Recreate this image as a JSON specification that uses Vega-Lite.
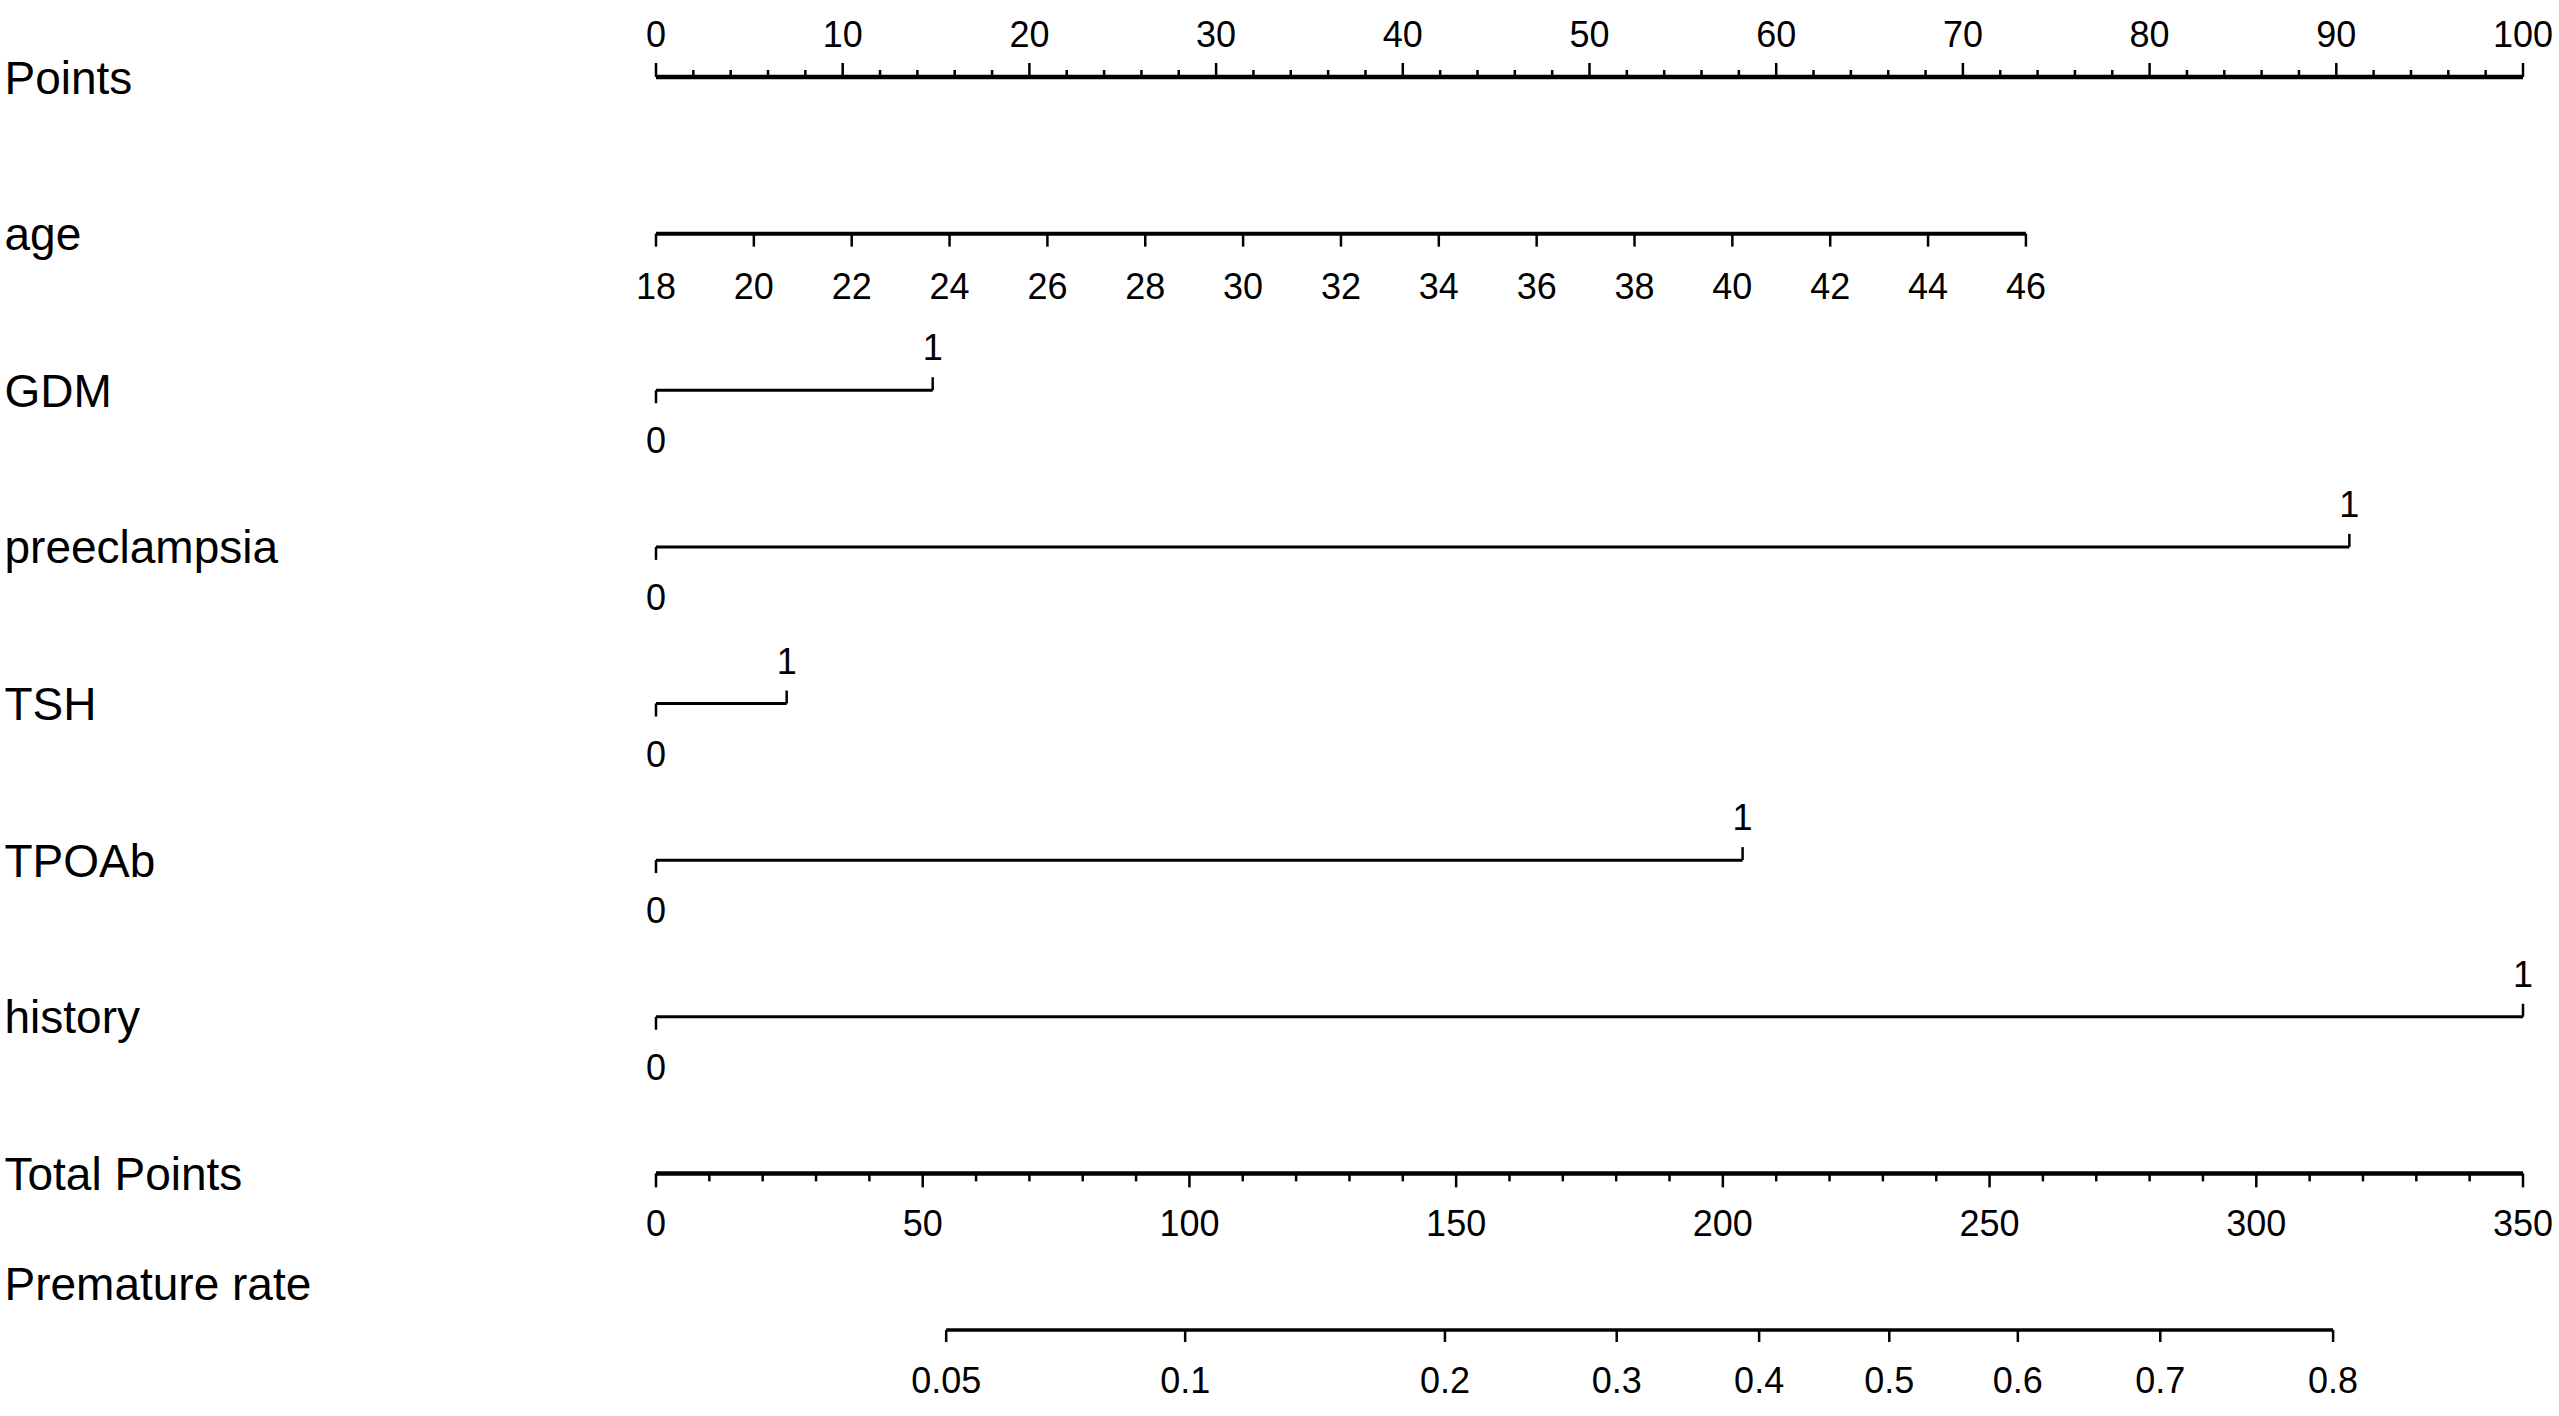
{
  "$schema": "https://vega.github.io/schema/vega-lite/v6.json",
  "width": 1867,
  "height": 1253,
  "autosize": {"type": "none"},
  "padding": {"left": 656, "top": 77, "right": 36, "bottom": 86},
  "background": "white",
  "config": {
    "view": {"stroke": null},
    "text": {"font": "Liberation Sans", "fontSize": 36, "color": "black", "align": "center", "baseline": "alphabetic"},
    "rule": {"color": "black"},
    "tick": {"color": "black", "opacity": 1}
  },
  "datasets": {
    "lines": [
      {"row": "Points", "from": 0, "to": 100, "unit": "pts"},
      {"row": "GDM", "from": 0, "to": 14.82, "unit": "pts"},
      {"row": "preeclampsia", "from": 0, "to": 90.7, "unit": "pts"},
      {"row": "TSH", "from": 0, "to": 7.0, "unit": "pts"},
      {"row": "TPOAb", "from": 0, "to": 58.2, "unit": "pts"},
      {"row": "history", "from": 0, "to": 100, "unit": "pts"},
      {"row": "age", "from": 18, "to": 46, "unit": "age"},
      {"row": "Total Points", "from": 0, "to": 350, "unit": "total"},
      {"row": "Premature rate", "from": 54.4, "to": 314.4, "unit": "total"}
    ],
    "points_axis": [
      {"row": "Points", "v": 0, "major": true, "label": "0"},
      {"row": "Points", "v": 2, "major": false},
      {"row": "Points", "v": 4, "major": false},
      {"row": "Points", "v": 6, "major": false},
      {"row": "Points", "v": 8, "major": false},
      {"row": "Points", "v": 10, "major": true, "label": "10"},
      {"row": "Points", "v": 12, "major": false},
      {"row": "Points", "v": 14, "major": false},
      {"row": "Points", "v": 16, "major": false},
      {"row": "Points", "v": 18, "major": false},
      {"row": "Points", "v": 20, "major": true, "label": "20"},
      {"row": "Points", "v": 22, "major": false},
      {"row": "Points", "v": 24, "major": false},
      {"row": "Points", "v": 26, "major": false},
      {"row": "Points", "v": 28, "major": false},
      {"row": "Points", "v": 30, "major": true, "label": "30"},
      {"row": "Points", "v": 32, "major": false},
      {"row": "Points", "v": 34, "major": false},
      {"row": "Points", "v": 36, "major": false},
      {"row": "Points", "v": 38, "major": false},
      {"row": "Points", "v": 40, "major": true, "label": "40"},
      {"row": "Points", "v": 42, "major": false},
      {"row": "Points", "v": 44, "major": false},
      {"row": "Points", "v": 46, "major": false},
      {"row": "Points", "v": 48, "major": false},
      {"row": "Points", "v": 50, "major": true, "label": "50"},
      {"row": "Points", "v": 52, "major": false},
      {"row": "Points", "v": 54, "major": false},
      {"row": "Points", "v": 56, "major": false},
      {"row": "Points", "v": 58, "major": false},
      {"row": "Points", "v": 60, "major": true, "label": "60"},
      {"row": "Points", "v": 62, "major": false},
      {"row": "Points", "v": 64, "major": false},
      {"row": "Points", "v": 66, "major": false},
      {"row": "Points", "v": 68, "major": false},
      {"row": "Points", "v": 70, "major": true, "label": "70"},
      {"row": "Points", "v": 72, "major": false},
      {"row": "Points", "v": 74, "major": false},
      {"row": "Points", "v": 76, "major": false},
      {"row": "Points", "v": 78, "major": false},
      {"row": "Points", "v": 80, "major": true, "label": "80"},
      {"row": "Points", "v": 82, "major": false},
      {"row": "Points", "v": 84, "major": false},
      {"row": "Points", "v": 86, "major": false},
      {"row": "Points", "v": 88, "major": false},
      {"row": "Points", "v": 90, "major": true, "label": "90"},
      {"row": "Points", "v": 92, "major": false},
      {"row": "Points", "v": 94, "major": false},
      {"row": "Points", "v": 96, "major": false},
      {"row": "Points", "v": 98, "major": false},
      {"row": "Points", "v": 100, "major": true, "label": "100"}
    ],
    "cats": [
      {"row": "GDM", "level": "0", "pts": 0},
      {"row": "GDM", "level": "1", "pts": 14.82},
      {"row": "preeclampsia", "level": "0", "pts": 0},
      {"row": "preeclampsia", "level": "1", "pts": 90.7},
      {"row": "TSH", "level": "0", "pts": 0},
      {"row": "TSH", "level": "1", "pts": 7.0},
      {"row": "TPOAb", "level": "0", "pts": 0},
      {"row": "TPOAb", "level": "1", "pts": 58.2},
      {"row": "history", "level": "0", "pts": 0},
      {"row": "history", "level": "1", "pts": 100}
    ],
    "age_axis": [
      {"row": "age", "age": 18}, {"row": "age", "age": 20}, {"row": "age", "age": 22},
      {"row": "age", "age": 24}, {"row": "age", "age": 26}, {"row": "age", "age": 28},
      {"row": "age", "age": 30}, {"row": "age", "age": 32}, {"row": "age", "age": 34},
      {"row": "age", "age": 36}, {"row": "age", "age": 38}, {"row": "age", "age": 40},
      {"row": "age", "age": 42}, {"row": "age", "age": 44}, {"row": "age", "age": 46}
    ],
    "total_axis": [
      {"row": "Total Points", "tp": 0, "major": true, "label": "0"},
      {"row": "Total Points", "tp": 10, "major": false},
      {"row": "Total Points", "tp": 20, "major": false},
      {"row": "Total Points", "tp": 30, "major": false},
      {"row": "Total Points", "tp": 40, "major": false},
      {"row": "Total Points", "tp": 50, "major": true, "label": "50"},
      {"row": "Total Points", "tp": 60, "major": false},
      {"row": "Total Points", "tp": 70, "major": false},
      {"row": "Total Points", "tp": 80, "major": false},
      {"row": "Total Points", "tp": 90, "major": false},
      {"row": "Total Points", "tp": 100, "major": true, "label": "100"},
      {"row": "Total Points", "tp": 110, "major": false},
      {"row": "Total Points", "tp": 120, "major": false},
      {"row": "Total Points", "tp": 130, "major": false},
      {"row": "Total Points", "tp": 140, "major": false},
      {"row": "Total Points", "tp": 150, "major": true, "label": "150"},
      {"row": "Total Points", "tp": 160, "major": false},
      {"row": "Total Points", "tp": 170, "major": false},
      {"row": "Total Points", "tp": 180, "major": false},
      {"row": "Total Points", "tp": 190, "major": false},
      {"row": "Total Points", "tp": 200, "major": true, "label": "200"},
      {"row": "Total Points", "tp": 210, "major": false},
      {"row": "Total Points", "tp": 220, "major": false},
      {"row": "Total Points", "tp": 230, "major": false},
      {"row": "Total Points", "tp": 240, "major": false},
      {"row": "Total Points", "tp": 250, "major": true, "label": "250"},
      {"row": "Total Points", "tp": 260, "major": false},
      {"row": "Total Points", "tp": 270, "major": false},
      {"row": "Total Points", "tp": 280, "major": false},
      {"row": "Total Points", "tp": 290, "major": false},
      {"row": "Total Points", "tp": 300, "major": true, "label": "300"},
      {"row": "Total Points", "tp": 310, "major": false},
      {"row": "Total Points", "tp": 320, "major": false},
      {"row": "Total Points", "tp": 330, "major": false},
      {"row": "Total Points", "tp": 340, "major": false},
      {"row": "Total Points", "tp": 350, "major": true, "label": "350"}
    ],
    "prob_axis": [
      {"row": "Premature rate", "tp": 54.4, "p": "0.05"},
      {"row": "Premature rate", "tp": 99.2, "p": "0.1"},
      {"row": "Premature rate", "tp": 147.9, "p": "0.2"},
      {"row": "Premature rate", "tp": 180.1, "p": "0.3"},
      {"row": "Premature rate", "tp": 206.8, "p": "0.4"},
      {"row": "Premature rate", "tp": 231.2, "p": "0.5"},
      {"row": "Premature rate", "tp": 255.3, "p": "0.6"},
      {"row": "Premature rate", "tp": 282.0, "p": "0.7"},
      {"row": "Premature rate", "tp": 314.4, "p": "0.8"}
    ]
  },
  "resolve": {"scale": {"x": "independent"}, "axis": {"x": "independent"}},
  "encoding": {
    "y": {
      "field": "row",
      "type": "nominal",
      "scale": {
        "type": "point",
        "domain": ["Points", "age", "GDM", "preeclampsia", "TSH", "TPOAb", "history", "Total Points", "Premature rate"],
        "padding": 0
      },
      "axis": {
        "title": null,
        "domain": false,
        "ticks": false,
        "tickSize": 0,
        "grid": false,
        "labelAlign": "left",
        "labelPadding": 652,
        "labelFont": "Liberation Sans",
        "labelFontSize": 46,
        "labelColor": "black",
        "labelBaseline": "alphabetic",
        "labelLimit": 1000,
        "labelOffset": {"condition": {"test": "datum.value === 'Premature rate'", "value": -31}, "value": 16}
      }
    }
  },
  "layer": [
    {
      "data": {"name": "lines"},
      "transform": [{"filter": "datum.unit === 'pts'"}],
      "mark": {"type": "rule"},
      "encoding": {
        "x": {"field": "from", "type": "quantitative", "scale": {"domain": [0, 100], "nice": false, "zero": false}, "axis": null},
        "x2": {"field": "to"},
        "strokeWidth": {"condition": {"test": "datum.row === 'Points'", "value": 4.5}, "value": 3}
      }
    },
    {
      "data": {"name": "lines"},
      "transform": [{"filter": "datum.unit === 'age'"}],
      "mark": {"type": "rule", "strokeWidth": 4},
      "encoding": {
        "x": {"field": "from", "type": "quantitative", "scale": {"domain": [18, 56.16], "nice": false, "zero": false}, "axis": null},
        "x2": {"field": "to"}
      }
    },
    {
      "data": {"name": "lines"},
      "transform": [{"filter": "datum.unit === 'total'"}],
      "mark": {"type": "rule"},
      "encoding": {
        "x": {"field": "from", "type": "quantitative", "scale": {"domain": [0, 350], "nice": false, "zero": false}, "axis": null},
        "x2": {"field": "to"},
        "strokeWidth": {"condition": {"test": "datum.row === 'Total Points'", "value": 4.5}, "value": 3.5}
      }
    },
    {
      "data": {"name": "points_axis"},
      "transform": [{"filter": "datum.major"}],
      "mark": {"type": "tick", "orient": "vertical", "size": 14, "thickness": 2.5, "yOffset": -7},
      "encoding": {
        "x": {"field": "v", "type": "quantitative", "scale": {"domain": [0, 100], "nice": false, "zero": false}, "axis": null}
      }
    },
    {
      "data": {"name": "points_axis"},
      "transform": [{"filter": "!datum.major"}],
      "mark": {"type": "tick", "orient": "vertical", "size": 7, "thickness": 2.5, "yOffset": -3.5},
      "encoding": {
        "x": {"field": "v", "type": "quantitative", "scale": {"domain": [0, 100], "nice": false, "zero": false}, "axis": null}
      }
    },
    {
      "data": {"name": "points_axis"},
      "transform": [{"filter": "datum.major"}],
      "mark": {"type": "text", "dy": -30},
      "encoding": {
        "x": {"field": "v", "type": "quantitative", "scale": {"domain": [0, 100], "nice": false, "zero": false}, "axis": null},
        "text": {"field": "label"}
      }
    },
    {
      "data": {"name": "cats"},
      "transform": [{"filter": "datum.level === '1'"}],
      "mark": {"type": "tick", "orient": "vertical", "size": 13, "thickness": 2.5, "yOffset": -6.5},
      "encoding": {
        "x": {"field": "pts", "type": "quantitative", "scale": {"domain": [0, 100], "nice": false, "zero": false}, "axis": null}
      }
    },
    {
      "data": {"name": "cats"},
      "transform": [{"filter": "datum.level === '0'"}],
      "mark": {"type": "tick", "orient": "vertical", "size": 13, "thickness": 2.5, "yOffset": 6.5},
      "encoding": {
        "x": {"field": "pts", "type": "quantitative", "scale": {"domain": [0, 100], "nice": false, "zero": false}, "axis": null}
      }
    },
    {
      "data": {"name": "cats"},
      "transform": [{"filter": "datum.level === '1'"}],
      "mark": {"type": "text", "dy": -30},
      "encoding": {
        "x": {"field": "pts", "type": "quantitative", "scale": {"domain": [0, 100], "nice": false, "zero": false}, "axis": null},
        "text": {"field": "level"}
      }
    },
    {
      "data": {"name": "cats"},
      "transform": [{"filter": "datum.level === '0'"}],
      "mark": {"type": "text", "dy": 63},
      "encoding": {
        "x": {"field": "pts", "type": "quantitative", "scale": {"domain": [0, 100], "nice": false, "zero": false}, "axis": null},
        "text": {"field": "level"}
      }
    },
    {
      "data": {"name": "age_axis"},
      "mark": {"type": "tick", "orient": "vertical", "size": 13, "thickness": 2.5, "yOffset": 6.5},
      "encoding": {
        "x": {"field": "age", "type": "quantitative", "scale": {"domain": [18, 56.16], "nice": false, "zero": false}, "axis": null}
      }
    },
    {
      "data": {"name": "age_axis"},
      "mark": {"type": "text", "dy": 65},
      "encoding": {
        "x": {"field": "age", "type": "quantitative", "scale": {"domain": [18, 56.16], "nice": false, "zero": false}, "axis": null},
        "text": {"field": "age", "type": "quantitative"}
      }
    },
    {
      "data": {"name": "total_axis"},
      "transform": [{"filter": "datum.major"}],
      "mark": {"type": "tick", "orient": "vertical", "size": 14, "thickness": 2.5, "yOffset": 7},
      "encoding": {
        "x": {"field": "tp", "type": "quantitative", "scale": {"domain": [0, 350], "nice": false, "zero": false}, "axis": null}
      }
    },
    {
      "data": {"name": "total_axis"},
      "transform": [{"filter": "!datum.major"}],
      "mark": {"type": "tick", "orient": "vertical", "size": 8, "thickness": 2.5, "yOffset": 4},
      "encoding": {
        "x": {"field": "tp", "type": "quantitative", "scale": {"domain": [0, 350], "nice": false, "zero": false}, "axis": null}
      }
    },
    {
      "data": {"name": "total_axis"},
      "transform": [{"filter": "datum.major"}],
      "mark": {"type": "text", "dy": 63},
      "encoding": {
        "x": {"field": "tp", "type": "quantitative", "scale": {"domain": [0, 350], "nice": false, "zero": false}, "axis": null},
        "text": {"field": "label"}
      }
    },
    {
      "data": {"name": "prob_axis"},
      "mark": {"type": "tick", "orient": "vertical", "size": 12, "thickness": 2.5, "yOffset": 6},
      "encoding": {
        "x": {"field": "tp", "type": "quantitative", "scale": {"domain": [0, 350], "nice": false, "zero": false}, "axis": null}
      }
    },
    {
      "data": {"name": "prob_axis"},
      "mark": {"type": "text", "dy": 63},
      "encoding": {
        "x": {"field": "tp", "type": "quantitative", "scale": {"domain": [0, 350], "nice": false, "zero": false}, "axis": null},
        "text": {"field": "p"}
      }
    }
  ]
}
